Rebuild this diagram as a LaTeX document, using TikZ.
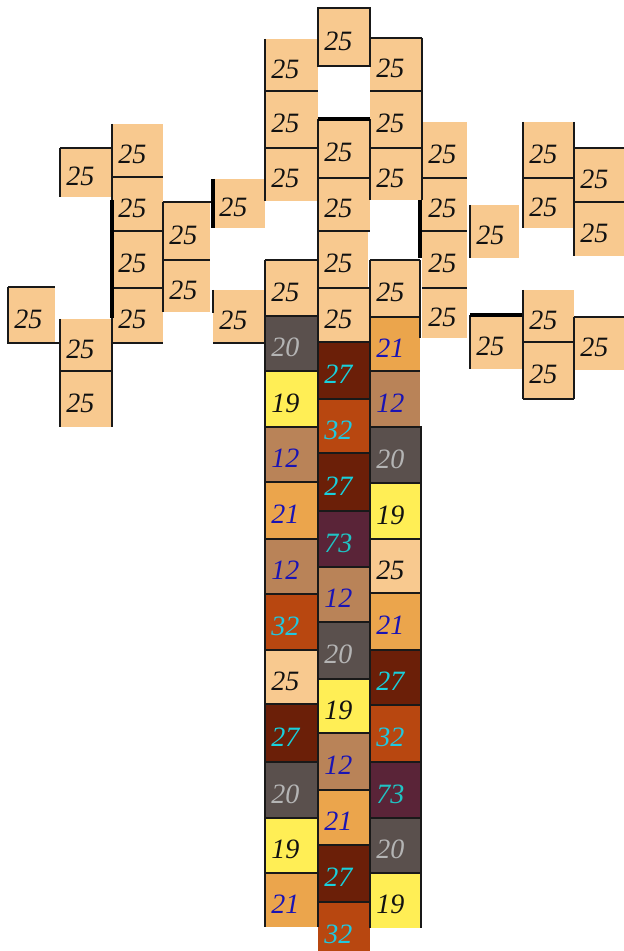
\documentclass[tikz,border=0pt]{standalone}
\usepackage{fontspec}
\setmainfont{Liberation Serif}
\definecolor{fc25}{HTML}{F8C98F}\definecolor{tc25}{HTML}{111111}
\definecolor{fc20}{HTML}{5A504D}\definecolor{tc20}{HTML}{B4B4B4}
\definecolor{fc19}{HTML}{FFEE55}\definecolor{tc19}{HTML}{111111}
\definecolor{fc12}{HTML}{B98358}\definecolor{tc12}{HTML}{1A14B4}
\definecolor{fc21}{HTML}{EBA54C}\definecolor{tc21}{HTML}{1A14B4}
\definecolor{fc27}{HTML}{6B1F08}\definecolor{tc27}{HTML}{18D0DC}
\definecolor{fc32}{HTML}{B84710}\definecolor{tc32}{HTML}{20C8E0}
\definecolor{fc73}{HTML}{5A2438}\definecolor{tc73}{HTML}{20C4C4}
\begin{document}
\begin{tikzpicture}[x=0.5pt,y=-0.5pt,
  num/.style={anchor=west,inner sep=0pt,font=\fontsize{14}{16}\selectfont\itshape},
  edge/.style={line width=1pt,black!90},
  thick edge/.style={line width=1.8pt,black}]
\useasboundingbox (0,0) rectangle (624,951);
% cells: x1/y1/x2/y2/value
\foreach \xa/\ya/\xb/\yb/\k [count=\i] in {
  8/287/55/343/25, 60/148/112/197/25, 60/319/112/371/25, 60/371/112/427/25,
  112/124/163/177/25, 112/177/163/231/25, 112/231/163/288/25, 112/288/163/343/25,
  163/202/210/260/25, 163/260/210/312/25,
  213/179/265/228/25, 213/290/265/343/25,
  265/39/318/91/25, 265/91/318/148/25, 265/148/318/201/25, 265/260/318/316/25,
  318/8/370/66/25, 318/119/370/178/25, 318/178/370/231/25, 318/231/368/288/25, 318/288/370/342/25,
  370/38/422/91/25, 370/91/422/148/25, 370/148/422/200/25, 370/260/420/317/25,
  422/122/467/178/25, 422/178/467/231/25, 422/231/467/288/25, 422/288/467/338/25,
  470/205/519/258/25, 470/315/522/369/25,
  523/122/574/178/25, 523/178/574/228/25, 523/290/574/342/25, 523/342/574/399/25,
  574/148/624/202/25, 574/202/624/256/25, 574/317/624/370/25,
  % column F
  265/316/318/371/20, 265/371/318/427/19, 265/427/318/482/12, 265/482/318/539/21,
  265/539/318/594/12, 265/594/318/650/32, 265/650/318/704/25, 265/704/318/762/27,
  265/762/318/818/20, 265/818/318/873/19, 265/873/318/927/21,
  % column G
  318/342/370/399/27, 318/399/370/453/32, 318/453/370/511/27, 318/511/370/567/73,
  318/567/370/622/12, 318/622/370/679/20, 318/679/370/733/19, 318/733/370/790/12,
  318/790/370/845/21, 318/845/370/902/27, 318/902/370/958/32,
  % column H
  370/317/420/371/21, 370/371/420/427/12, 370/427/421/483/20, 370/483/421/539/19,
  370/539/421/593/25, 370/593/421/650/21, 370/650/421/705/27, 370/705/421/762/32,
  370/762/421/818/73, 370/818/421/873/20, 370/873/421/928/19}
{
  \fill[fc\k] (\xa,\ya) rectangle (\xb,\yb);
  \node[num,text=tc\k] (c\i) at ({\xa+6},{(\ya+\yb)/2+4}) {\k};
}
% fully bordered cells of the trunk
\foreach \xa/\ya/\xb/\yb in {
  265/316/318/371, 265/371/318/427, 265/427/318/482, 265/482/318/539,
  265/539/318/594, 265/594/318/650, 265/650/318/704, 265/704/318/762,
  265/762/318/818, 265/818/318/873,
  318/342/370/399, 318/399/370/453, 318/453/370/511, 318/511/370/567,
  318/567/370/622, 318/622/370/679, 318/679/370/733, 318/733/370/790,
  318/790/370/845, 318/845/370/902,
  370/427/421/483, 370/483/421/539, 370/539/421/593, 370/593/421/650,
  370/650/421/705, 370/705/421/762, 370/762/421/818, 370/818/421/873,
  318/8/370/66}
{ \draw[edge] (\xa,\ya) rectangle (\xb,\yb); }
% open-ended trunk cells
\draw[edge] (265,873) -- (265,927) (318,873) -- (318,927);
\draw[edge] (370,873) -- (370,928) (421,873) -- (421,928);
\draw[edge] (370,317) -- (420,317) (370,317) -- (370,427) (370,371) -- (420,371);
% crown: thin edges
\draw[edge]
  (60,148) -- (112,148) (60,148) -- (60,197)
  (8,287) -- (55,287) (8,287) -- (8,343) -- (60,343)
  (60,319) -- (60,427) (60,371) -- (112,371)
  (112,124) -- (112,200) (112,318) -- (112,427)
  (112,177) -- (163,177) (112,231) -- (163,231) (112,288) -- (163,288) (112,343) -- (163,343)
  (163,202) -- (211,202) (163,202) -- (163,312) (163,260) -- (210,260)
  (213,290) -- (213,313) (213,343) -- (265,343)
  (265,39) -- (265,201) (265,91) -- (318,91) (265,148) -- (318,148)
  (265,260) -- (318,260) (265,260) -- (265,316)
  (318,119) -- (318,342) (318,178) -- (370,178) (318,231) -- (370,231) (318,288) -- (370,288)
  (370,119) -- (370,200)
  (370,38) -- (422,38) (422,38) -- (422,200) (370,91) -- (422,91) (370,148) -- (422,148)
  (422,178) -- (467,178) (422,231) -- (467,231) (422,288) -- (467,288)
  (420,260) -- (420,338) (370,260) -- (420,260) (370,260) -- (370,317)
  (470,205) -- (470,258) (470,315) -- (470,369)
  (523,122) -- (523,228) (523,178) -- (574,178)
  (523,290) -- (523,399) (523,342) -- (574,342) (523,399) -- (574,399) (574,317) -- (574,399)
  (574,148) -- (624,148) (574,122) -- (574,256) (574,202) -- (624,202) (574,317) -- (624,317);
% crown: thick edges
\draw[thick edge]
  (112,200) -- (112,318) (213,179) -- (213,228) (318,119) -- (370,119)
  (420,200) -- (420,258) (470,315) -- (522,315);
\end{tikzpicture}
\end{document}
